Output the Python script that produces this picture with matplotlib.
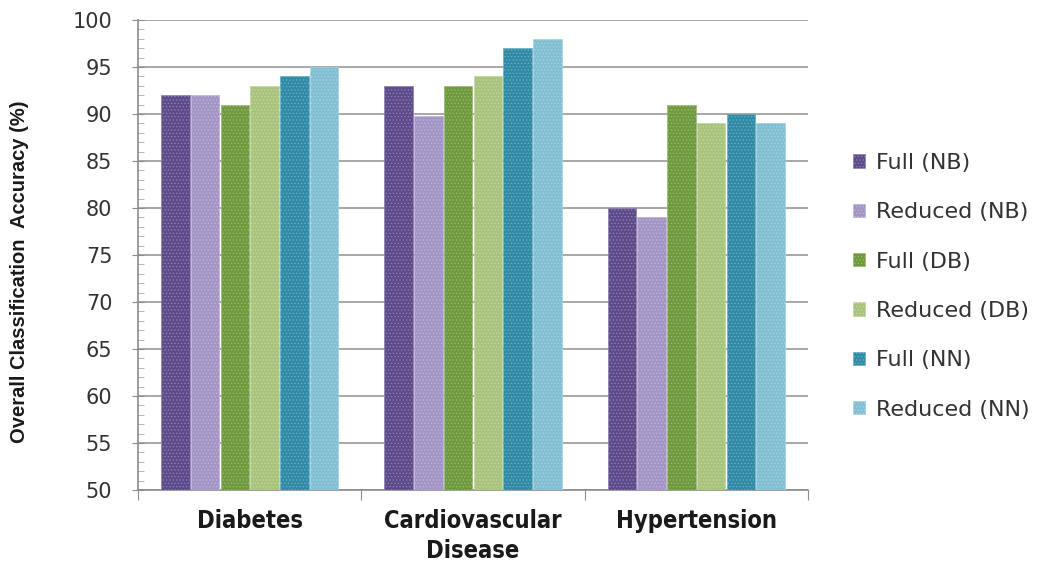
import numpy as np
import matplotlib.pyplot as plt
from matplotlib.colors import to_rgb
from matplotlib.patches import Patch

# Data
categories = ['Diabetes', 'Cardiovascular\nDisease', 'Hypertension']
series_names = ['Full (NB)', 'Reduced (NB)', 'Full (DB)', 'Reduced (DB)', 'Full (NN)', 'Reduced (NN)']
full_nb = [92, 93, 80]
reduced_nb = [92, 89.8, 79]
full_db = [91, 93, 91]
reduced_db = [93, 94, 89]
full_nn = [94, 97, 90]
reduced_nn = [95, 98, 89]

colors = ['#5d4a8a', '#a394c6', '#6e9a3c', '#a8c47c', '#2f8aa6', '#80bfd2']
series = [full_nb, reduced_nb, full_db, reduced_db, full_nn, reduced_nn]


def lighter(c, f=0.3):
    r, g, b = to_rgb(c)
    return (r + (1 - r) * f, g + (1 - g) * f, b + (1 - b) * f)


plt.rcParams['hatch.linewidth'] = 0.6

fig = plt.figure(figsize=(10.41, 5.69), dpi=100)
ax = fig.add_axes([0.1326, 0.139, 0.6435, 0.826])

x = np.arange(len(categories))
width = 0.128
for i, (vals, c) in enumerate(zip(series, colors)):
    offs = (i - 2.5) * 0.133
    ax.bar(x + offs, np.array(vals) - 50, width, bottom=50, color=c,
           edgecolor=lighter(c), linewidth=0.5, hatch='.....', zorder=3)

ax.set_ylim(50, 100)
ax.set_xlim(-0.5, 2.5)
ax.set_yticks(np.arange(50, 101, 5))
ax.set_yticks(np.arange(50, 101, 1), minor=True)
ax.yaxis.grid(True, color='#999999', linewidth=1.2, zorder=0)
ax.tick_params(axis='y', which='major', direction='inout', length=9, color='#8c8c8c',
               labelsize=15, labelcolor='#333333', pad=14)
ax.tick_params(axis='y', which='minor', direction='in', length=4, color='#aaaaaa')

# category boundaries as ticks, labels at centres
ax.set_xticks([-0.5, 0.5, 1.5, 2.5])
ax.set_xticklabels([])
ax.set_xticks(x, minor=True)
ax.set_xticklabels(categories, minor=True, fontsize=17, fontweight='bold',
                   fontstretch='condensed', linespacing=1.3, color='#1a1a1a')
ax.tick_params(axis='x', which='major', direction='out', length=7, color='#8c8c8c')
ax.tick_params(axis='x', which='minor', length=0, pad=14)

for s in ['top', 'right']:
    ax.spines[s].set_visible(False)
for s in ['left', 'bottom']:
    ax.spines[s].set_color('#8c8c8c')
    ax.spines[s].set_linewidth(1.2)

ax.set_ylabel('Overall Classification  Accuracy (%)', fontsize=14.5, fontweight='bold',
              family=['Liberation Sans', 'DejaVu Sans'], color='#1a1a1a')
ax.yaxis.set_label_coords(-0.163, 0.465)

handles = [Patch(facecolor=c, edgecolor=lighter(c), hatch='.....', linewidth=0.5) for c in colors]
fig.legend(handles, series_names, loc='center left', bbox_to_anchor=(0.8, 0.497),
           frameon=False, fontsize=16, handlelength=0.55, handleheight=0.55,
           labelspacing=1.32, handletextpad=0.5, labelcolor='#333333')

fig.savefig('out.png', dpi=100)
